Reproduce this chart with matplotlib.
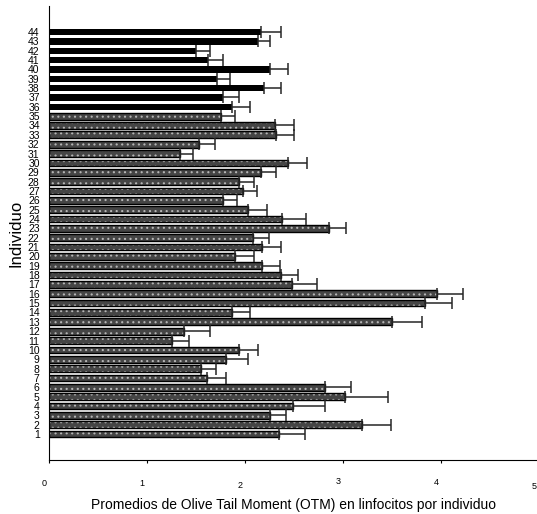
import numpy as np
import matplotlib.pyplot as plt

# individuos 1..44 (1-35 barras tramadas, 36-44 negras)
individuos = list(range(1, 45))
media = [2.35, 3.20, 2.26, 2.49, 3.02, 2.82, 1.61, 1.55, 1.81, 1.94,
         1.26, 1.38, 3.50, 1.87, 3.84, 3.96, 2.48, 2.37, 2.18, 1.90,
         2.18, 2.08, 2.86, 2.38, 2.03, 1.78, 1.98, 1.94, 2.16, 2.44,
         1.34, 1.53, 2.32, 2.31, 1.76,
         1.87, 1.78, 2.20, 1.72, 2.26, 1.62, 1.50, 2.13, 2.17]
error = [0.26, 0.29, 0.16, 0.33, 0.44, 0.26, 0.20, 0.16, 0.22, 0.19,
         0.17, 0.26, 0.31, 0.18, 0.27, 0.27, 0.26, 0.17, 0.18, 0.19,
         0.19, 0.17, 0.17, 0.24, 0.20, 0.14, 0.14, 0.15, 0.16, 0.19,
         0.13, 0.17, 0.18, 0.19, 0.14,
         0.18, 0.16, 0.17, 0.13, 0.18, 0.16, 0.14, 0.13, 0.20]
n_trama = 35
xticks = [0, 1, 2, 3, 4, 5]

narrow = ['Liberation Sans Narrow', 'Liberation Sans', 'DejaVu Sans']
plt.rcParams['font.family'] = ['Liberation Sans', 'DejaVu Sans']
plt.rcParams['hatch.linewidth'] = 0.8

fig = plt.figure(figsize=(5.37, 5.14), dpi=100)
ax = fig.add_axes([48.7/537, 54/514, 490.3/537, 454/514])

y = np.array(individuos)
m = np.array(media)
e = np.array(error)

# barras tramadas (dos capas: trama gris + borde negro)
ax.barh(y[:n_trama], m[:n_trama], height=0.72, color='#454545',
        edgecolor='#b4b4b4', linewidth=0, hatch='...')
ax.barh(y[:n_trama], m[:n_trama], height=0.72, fill=False,
        edgecolor='black', linewidth=1.0)
# barras negras
ax.barh(y[n_trama:], m[n_trama:], height=0.68, color='black')

ax.errorbar(m, y, xerr=[np.zeros(len(e)), e], fmt='none', ecolor='#262626',
            elinewidth=1.1, capsize=4.6, capthick=1.1)

ax.set_xlim(0, 5)
ax.set_ylim(-1.78, 46.78)
ax.spines['top'].set_visible(False)
ax.spines['right'].set_visible(False)
ax.spines['bottom'].set_bounds(0, 5.2)

ax.set_yticks(individuos)
ax.set_yticklabels([str(i) for i in individuos], family=narrow, fontsize=7.5)
ax.tick_params(axis='y', length=0, pad=6.5)

ax.set_xticks(xticks)
ax.tick_params(axis='x', direction='out', length=2.5, width=0.8, labelbottom=False)
# etiquetas del eje x algo desplazadas como en el original
dy = [-23.5, -23.5, -25.6, -21.8, -22.5, -26.7]
for v, d in zip(xticks, dy):
    ax.annotate(str(v), xy=(v, 0), xycoords=('data', 'axes fraction'),
                xytext=(-5, d), textcoords='offset pixels',
                ha='center', va='center', fontsize=6.5, family=narrow)

ax.set_xlabel('Promedios de Olive Tail Moment (OTM) en linfocitos por individuo',
              fontsize=10, labelpad=25)
ax.set_ylabel('Individuo', fontsize=12, labelpad=3)

fig.savefig('out.png', dpi=100)
